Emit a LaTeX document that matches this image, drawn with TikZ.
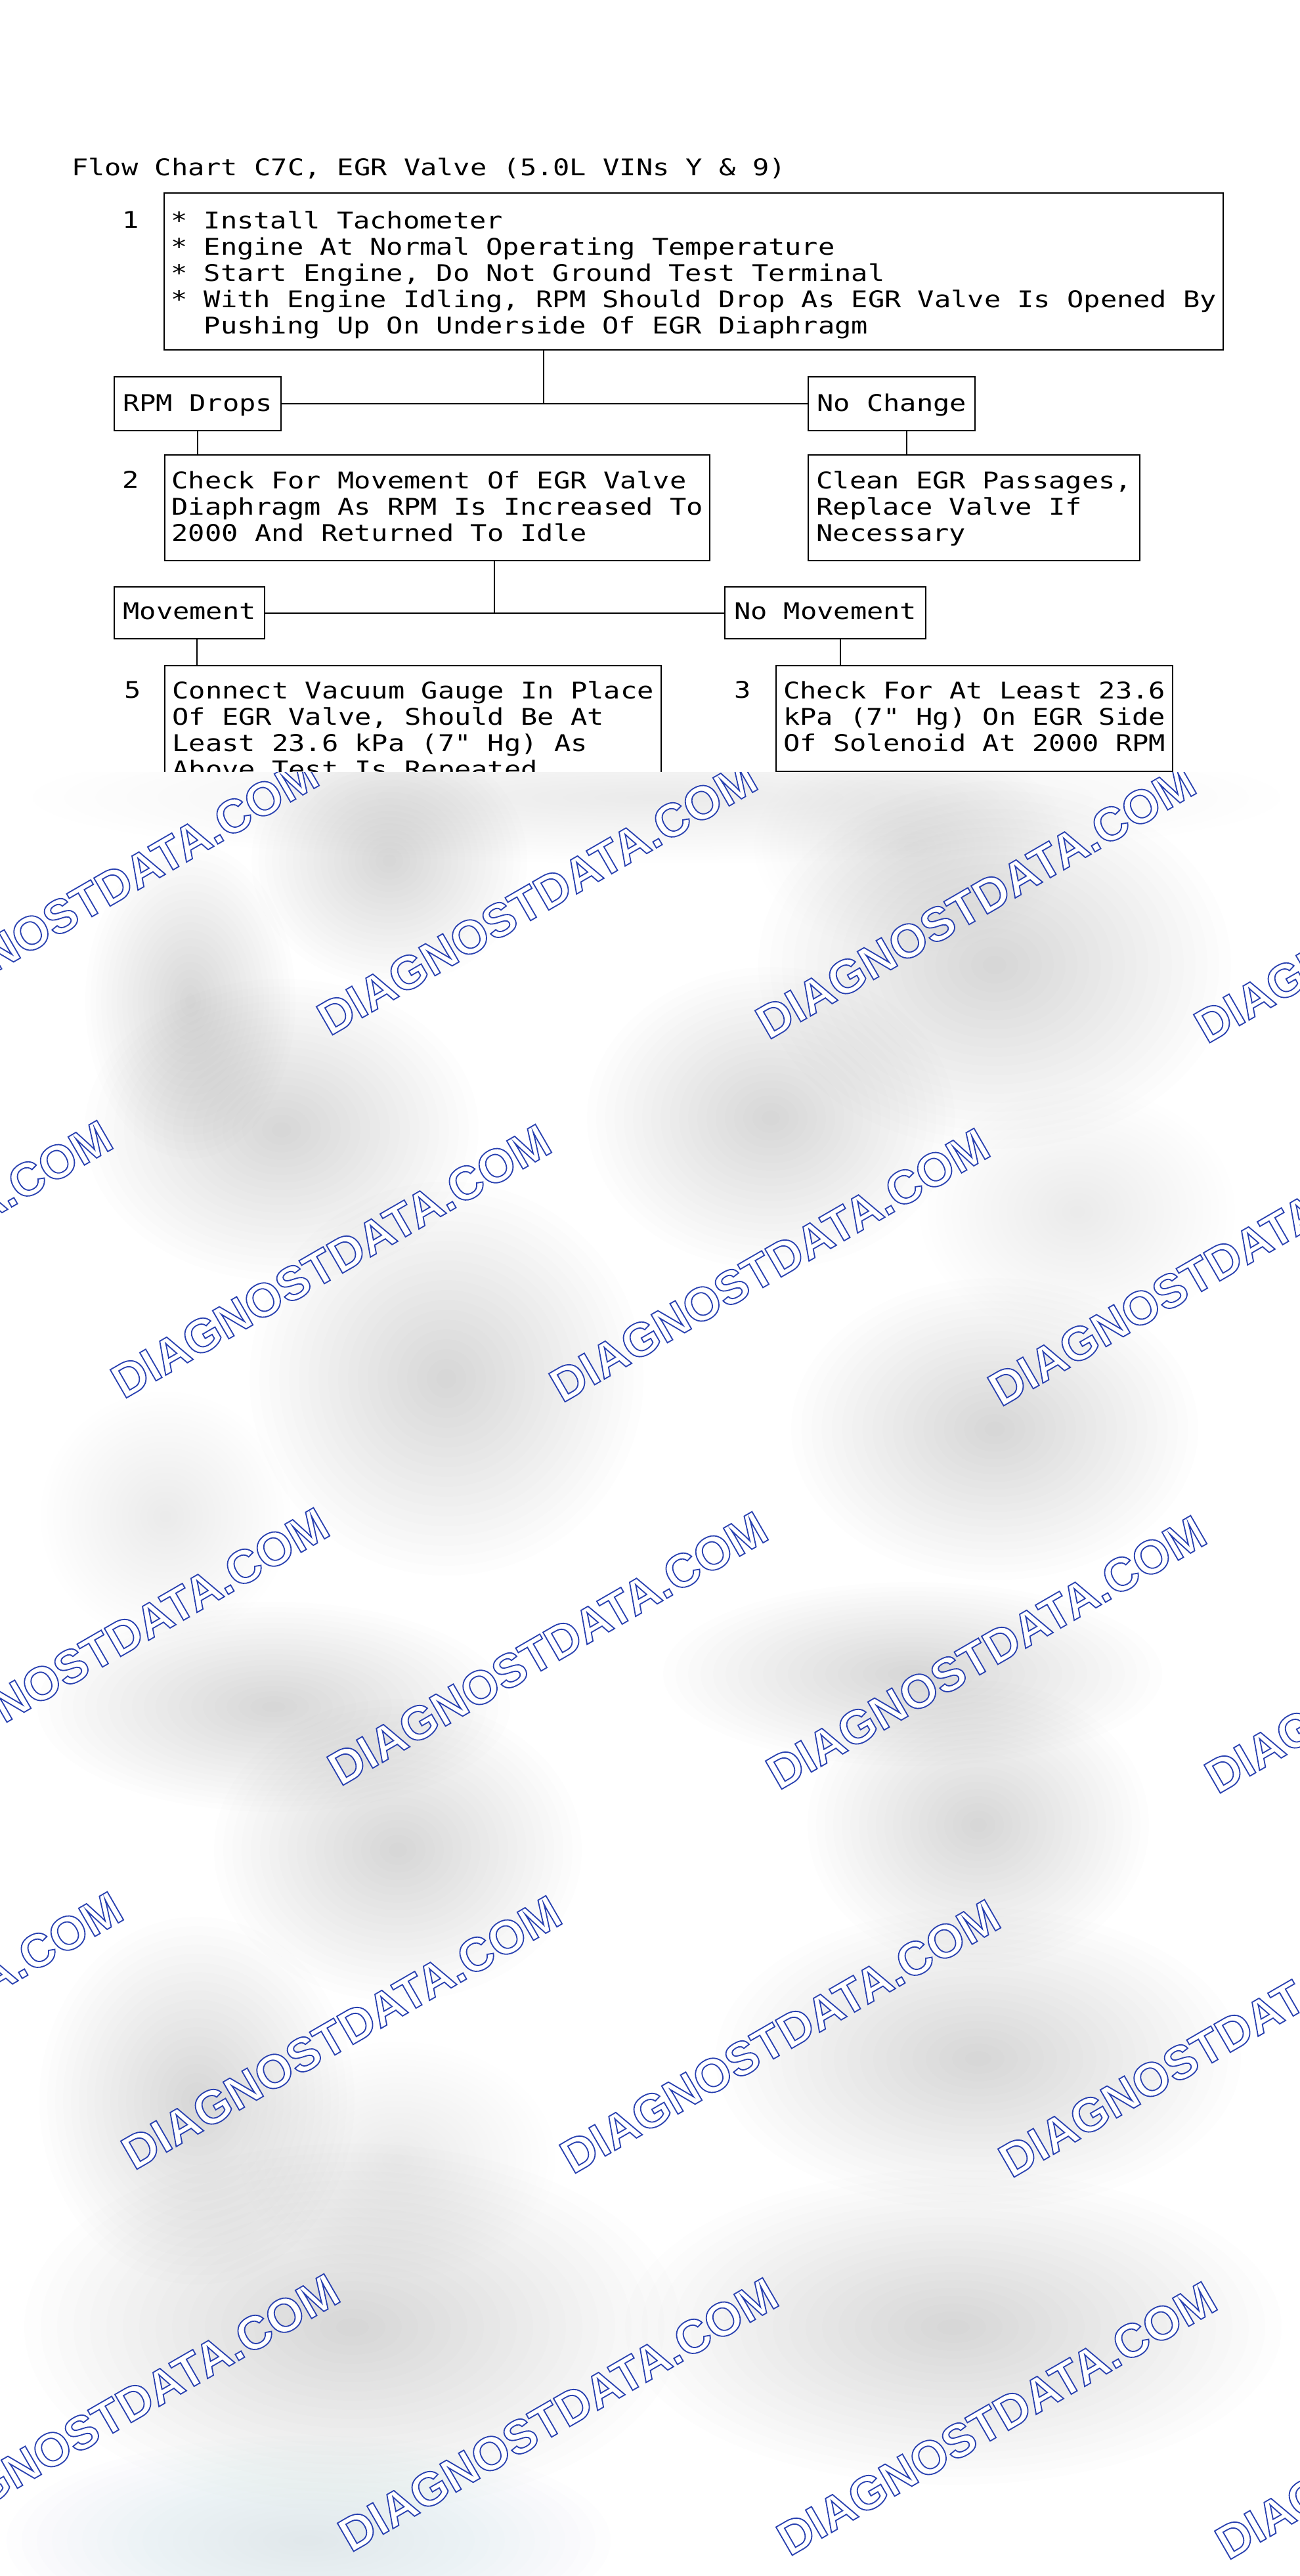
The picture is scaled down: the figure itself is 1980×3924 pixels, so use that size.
\documentclass[tikz,border=0pt]{standalone}
\usepackage{fontspec}
\newfontfamily\chartfont[FakeStretch=1.2]{DejaVu Sans Mono}
\newfontfamily\wmfont{Liberation Sans}
\definecolor{wmblue}{RGB}{40,64,176}
\definecolor{haze}{RGB}{150,165,220}

\newcommand{\padtop}[1]{\rule{0pt}{#1}}
\newcommand{\padbot}[1]{\rule[-#1]{0pt}{#1}}

\tikzset{
  chart/.style={font=\chartfont\fontsize{17.5pt}{20pt}\selectfont},
  stepbox/.style={chart, draw, line width=1.2pt, anchor=north west, align=left, inner xsep=0pt, inner ysep=0pt},
  stepnum/.style={chart, anchor=base, inner sep=0pt},
  link/.style={line width=1.2pt},
  wmark/.style={font=\wmfont\bfseries\fontsize{36pt}{40pt}\selectfont, rotate=30, text=white, inner sep=0pt},
}

\begin{document}
\begin{tikzpicture}[x=0.5pt,y=-0.5pt]
  \useasboundingbox (0,0) rectangle (1980,3924);
  \fill[white] (0,0) rectangle (1980,3924);

  \node[chart, anchor=base west, inner sep=0pt] (title) at (109,267) {Flow Chart C7C, EGR Valve (5.0L VINs Y \& 9)};

  \node[stepnum] (n1) at (199,347) {1};
  \node[stepbox, minimum width=806.5pt] (b1) at (249,293) {\padtop{27pt}* Install Tachometer\\
    * Engine At Normal Operating Temperature\\
    * Start Engine, Do Not Ground Test Terminal\\
    * With Engine Idling, RPM Should Drop As EGR Valve Is Opened By\\
    \phantom{**}Pushing Up On Underside Of EGR Diaphragm\padbot{12.5pt}};

  \node[stepbox, minimum width=127pt] (rpm) at (173,573) {\padtop{26pt}RPM Drops\padbot{15pt}};
  \node[stepbox, minimum width=127pt] (nochg) at (1230,573) {\padtop{26pt}No Change\padbot{15pt}};

  \node[stepnum] (n2) at (199,743) {2};
  \node[stepbox, minimum width=415pt] (b2) at (250,692) {\padtop{25.5pt}Check For Movement Of EGR Valve\\
    Diaphragm As RPM Is Increased To\\
    2000 And Returned To Idle\padbot{15pt}};
  \node[stepbox, minimum width=252.5pt] (clean) at (1230,692) {\padtop{25.5pt}Clean EGR Passages,\\
    Replace Valve If\\
    Necessary\padbot{15pt}};

  \node[stepbox, minimum width=114.5pt] (mov) at (173,893) {\padtop{24.5pt}Movement\padbot{15pt}};
  \node[stepbox, minimum width=153pt] (nomov) at (1103,893) {\padtop{24.5pt}No Movement\padbot{15pt}};

  \node[stepnum] (n5) at (202,1063) {5};
  \node[stepbox, minimum width=378pt] (b5) at (250,1013) {\padtop{25pt}Connect Vacuum Gauge In Place\\
    Of EGR Valve, Should Be At\\
    Least 23.6 kPa (7" Hg) As\\
    Above Test Is Repeated\padbot{15pt}};
  \node[stepnum] (n3) at (1131,1063) {3};
  \node[stepbox, minimum width=302pt] (b3) at (1181,1013) {\padtop{25pt}Check For At Least 23.6\\
    kPa (7" Hg) On EGR Side\\
    Of Solenoid At 2000 RPM\padbot{15.5pt}};

  \coordinate (c0) at (828,0);
  \coordinate (c1) at (1381,0);
  \coordinate (c2) at (753,0);
  \coordinate (c3) at (300,0);
  \coordinate (c4) at (1280,0);
  \coordinate (b3end) at (1228,1300);

  \draw[link] (c0 |- b1.south) -- (c0 |- rpm.east);
  \draw[link] (rpm.east) -- (nochg.west);
  \draw[link] (rpm.south) -- (rpm.south |- b2.north);
  \draw[link] (c1 |- nochg.south) -- (c1 |- clean.north);
  \draw[link] (c2 |- b2.south) -- (c2 |- mov.east);
  \draw[link] (mov.east) -- (nomov.west);
  \draw[link] (c3 |- mov.south) -- (c3 |- b5.north);
  \draw[link] (c4 |- nomov.south) -- (c4 |- b3.north);
  \draw[link] (b3end |- b3.south) -- (b3end);

  % blurred lower part with watermark
  \begin{scope}
    \clip (0,1176) rectangle (1980,3924);
    \fill[white] (0,1176) rectangle (1980,3924);
    \foreach \bx/\by/\rx/\ry/\s in {1000/2550/1100/1500/0.0015, 1000/1215/950/100/0.004,
        593/1311/210/190/0.0065, 1389/1290/240/160/0.004, 290/1525/160/240/0.006,
        1515/1470/360/280/0.0085, 429/1721/300/230/0.0085, 1174/1703/280/230/0.0065,
        1641/1846/240/190/0.004, 680/2100/300/300/0.0085, 1515/2177/310/230/0.0075,
        252/2310/190/190/0.004, 417/2600/360/160/0.0085, 1390/2550/380/140/0.0065,
        606/2818/280/230/0.0075, 1490/2780/260/220/0.0075, 300/3200/240/280/0.0065,
        1490/3136/400/230/0.0095, 606/3290/240/180/0.004, 537/3545/500/280/0.0065,
        1452/3545/500/240/0.0065}
      \foreach \k in {1,...,20}
        \fill[black, opacity=\s] (\bx,\by) ellipse [x radius=\rx/20*\k, y radius=\ry/20*\k];
    \foreach \k in {1,...,20}
      \fill[haze, opacity=0.012] (470,3870) ellipse [x radius=23*\k, y radius=8*\k];

    \foreach \r/\y/\x in {0/1362/150, 1/1915/-164, 2/2505/166, 3/3090/-148, 4/3672/182}
      \foreach \k in {0,...,3}
        \node[wmark] (wm-\r-\k) at (\x+668*\k, \y+6*\k)
          {\special{pdf:literal direct 2 Tr 0.157 0.251 0.69 RG 0.9 w}DIAGNOSTDATA.COM\special{pdf:literal direct 0 Tr}};
  \end{scope}
\end{tikzpicture}
\end{document}
